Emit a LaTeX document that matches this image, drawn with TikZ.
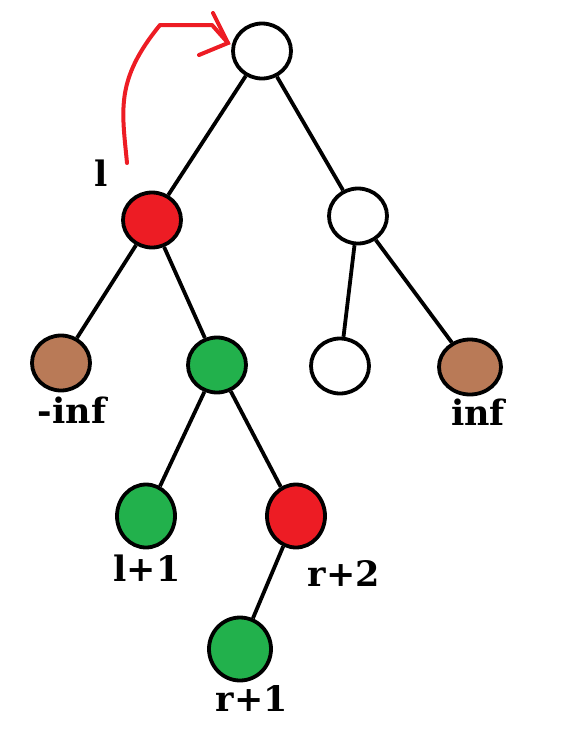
\documentclass[tikz,border=0pt]{standalone}
\usepackage{fontspec}
\setmainfont{DejaVu Serif}
\usetikzlibrary{shapes.geometric}
\definecolor{pred}{HTML}{ED1C24}
\definecolor{pgreen}{HTML}{22B14C}
\definecolor{pbrown}{HTML}{B97A57}
\begin{document}
\begin{tikzpicture}[x=1pt,y=-1pt,
  vtx/.style={ellipse,draw=black,line width=3.8pt,minimum width=58pt,minimum height=55pt,inner sep=0pt},
  lbl/.style={font=\fontsize{35}{35}\selectfont\bfseries,inner sep=0pt},
  edge/.style={line width=3.8pt,black}]
\useasboundingbox (0,0) rectangle (563,729);
\draw[white] (0,0) rectangle (563,729);
\node[vtx,fill=white] (root) at (262,51) {};
\node[vtx,fill=pred] (l) at (152,220) {};
\node[vtx,fill=white] (rc) at (358,216) {};
\node[vtx,fill=pbrown] (ninf) at (61,363) {};
\node[vtx,fill=pgreen] (g) at (217,365) {};
\node[vtx,fill=white] (w) at (340,366) {};
\node[vtx,fill=pbrown,minimum width=62pt] (inf) at (470,367) {};
\node[vtx,fill=pgreen,minimum height=63pt] (lp1) at (146,516) {};
\node[vtx,fill=pred,minimum height=63pt] (rp2) at (296,516) {};
\node[vtx,fill=pgreen,minimum width=62pt,minimum height=63pt] (rp1) at (240,649) {};
\draw[edge] (root) -- (l);
\draw[edge] (root) -- (rc);
\draw[edge] (l) -- (ninf);
\draw[edge] (l) -- (g);
\draw[edge] (rc) -- (w);
\draw[edge] (rc) -- (inf);
\draw[edge] (g) -- (lp1);
\draw[edge] (g) -- (rp2);
\draw[edge] (rp2) -- (rp1);
\node[lbl] (tl) at (101,173) {l};
\node[lbl] (tninf) at (72,410) {-inf};
\node[lbl] (tinf) at (478,412) {inf};
\node[lbl] (tlp1) at (147,568) {l+1};
\node[lbl] (trp2) at (344,574) {r+2};
\node[lbl] (trp1) at (252,699) {r+1};
\coordinate (a0) at (127,163);
\coordinate (a1) at (228,43);
\coordinate (h1) at (213,13);
\coordinate (h2) at (199,55);
\draw[pred,line width=4pt,line cap=round,line join=round]
  (a0) .. controls (122,110) and (115,80) .. (160,25) -- (212,25) -- (a1);
\draw[pred,line width=4pt,line cap=round] (h1) -- (a1) -- (h2);
\end{tikzpicture}
\end{document}
